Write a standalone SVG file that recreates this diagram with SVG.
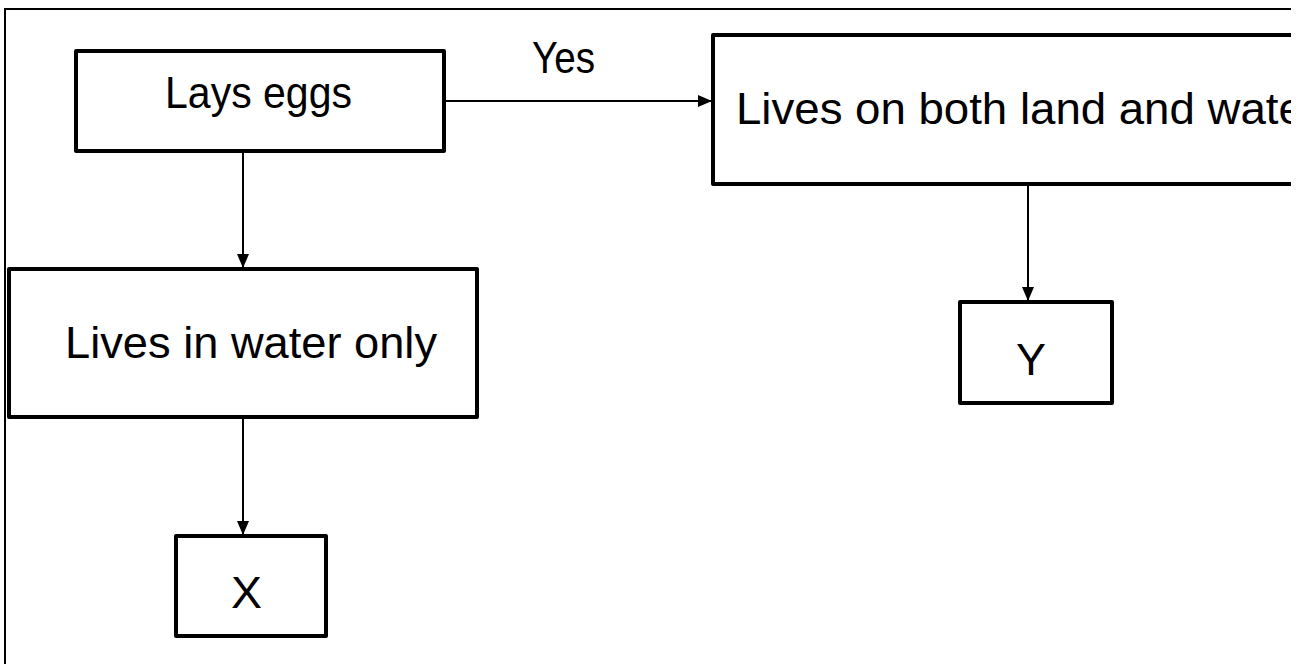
<svg xmlns="http://www.w3.org/2000/svg" width="1308" height="664" viewBox="0 0 1308 664">
<defs>
<style>
.box{fill:#fff;stroke:#000;stroke-width:4;stroke-linejoin:round}
.conn{stroke:#000;stroke-width:2;fill:none}
.lbl{font-family:"Liberation Sans",Arial,sans-serif;font-size:45px;fill:#000}
</style>
<marker id="arr" markerUnits="userSpaceOnUse" markerWidth="14" markerHeight="12" refX="14" refY="6" orient="auto">
<path d="M0,0 L14,6 L0,12 z" fill="#000"/>
</marker>
<clipPath id="clip"><rect x="0" y="0" width="1291" height="664"/></clipPath>
</defs>
<rect x="0" y="0" width="1308" height="664" fill="#fff"/>
<g clip-path="url(#clip)">
<path d="M5,664 V9 H1308" fill="none" stroke="#000" stroke-width="2"/>
<g id="connectors">
<line class="conn" x1="243" y1="153" x2="243" y2="268" marker-end="url(#arr)"/>
<line class="conn" x1="243" y1="419" x2="243" y2="535" marker-end="url(#arr)"/>
<line class="conn" x1="446" y1="101" x2="712" y2="101" marker-end="url(#arr)"/>
<line class="conn" x1="1028" y1="186" x2="1028" y2="301" marker-end="url(#arr)"/>
<text class="lbl" x="532" y="73" textLength="63" lengthAdjust="spacingAndGlyphs" font-size="42">Yes</text>
</g>
<g id="lays-eggs">
<rect class="box" x="76" y="51" width="368" height="100"/>
<text class="lbl" x="165" y="108" textLength="187" lengthAdjust="spacingAndGlyphs">Lays eggs</text>
</g>
<g id="water-only">
<rect class="box" x="9" y="269" width="468" height="148"/>
<text class="lbl" x="65" y="358" textLength="372" lengthAdjust="spacingAndGlyphs">Lives in water only</text>
</g>
<g id="node-x">
<rect class="box" x="176" y="536" width="150" height="100"/>
<text class="lbl" x="231" y="608" font-size="57" textLength="31" lengthAdjust="spacingAndGlyphs">X</text>
</g>
<g id="land-and-water">
<rect class="box" x="713" y="35" width="700" height="149"/>
<text class="lbl" x="736" y="124" textLength="583" lengthAdjust="spacingAndGlyphs">Lives on both land and water</text>
</g>
<g id="node-y">
<rect class="box" x="960" y="302" width="152" height="101"/>
<text class="lbl" x="1016" y="375" font-size="60" textLength="30" lengthAdjust="spacingAndGlyphs">Y</text>
</g>
</g>
</svg>
